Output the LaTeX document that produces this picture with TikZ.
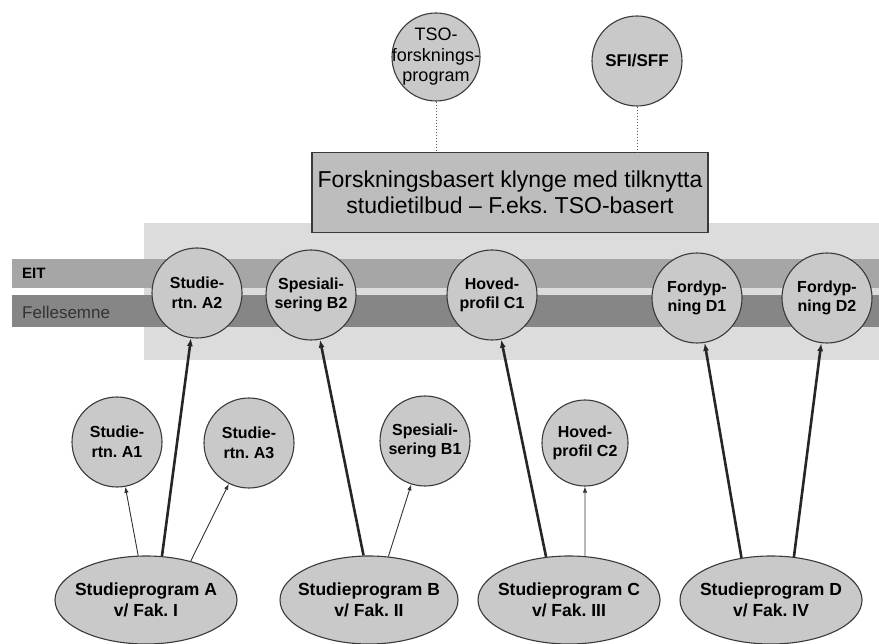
\documentclass[tikz,border=0pt]{standalone}
\usepackage{fontspec}
\setmainfont{Liberation Sans}
\usetikzlibrary{arrows.meta,shapes.geometric}
\frenchspacing
\definecolor{bgshade}{HTML}{DCDCDC}
\definecolor{eitband}{HTML}{A6A6A6}
\definecolor{fellesband}{HTML}{868686}
\definecolor{nodefill}{HTML}{C9C9C9}
\definecolor{boxfill}{HTML}{BDBDBD}
\definecolor{edge}{HTML}{3A3A3A}
\tikzset{
  bubble/.style={circle, draw=edge, line width=1.1pt, fill=nodefill, minimum size=90pt, inner sep=0pt, align=center, font=\bfseries\fontsize{16}{19.5}\selectfont},
  prog/.style={ellipse, draw=edge, line width=1.1pt, fill=nodefill, minimum width=182pt, minimum height=88pt, inner xsep=-22pt, inner ysep=-8pt, align=center, font=\bfseries\fontsize{17.5}{20.5}\selectfont},
  thickarrow/.style={line width=2.6pt, draw=black!85, -{Latex[length=8pt,width=6pt]}},
  thinarrow/.style={line width=0.9pt, draw=black!80, -{Latex[length=6pt,width=4.5pt]}},
  dotline/.style={line width=1pt, draw=black!65, dotted},
  bandlabel/.style={anchor=west, inner sep=0pt}
}
\begin{document}
\begin{tikzpicture}[x=1pt,y=-1pt]
\useasboundingbox (0,0) rectangle (879,644);
% shaded background
\fill[bgshade] (144,223) rectangle (879,360);
% bands
\fill[eitband] (12,259) rectangle (879,288);
\fill[fellesband] (12,295) rectangle (879,327);
\node[bandlabel, font=\bfseries\fontsize{15}{17}\selectfont] (eit) at (22,273) {EIT};
\node[bandlabel, font=\fontsize{17}{19}\selectfont, text=black!80] (felles) at (22,312) {Fellesemne};
% top circles and box
\node[bubble, minimum size=88pt, inner sep=-10pt, font=\fontsize{18}{20.5}\selectfont] (tso) at (436,57) {TSO-\\forsknings-\\program};
\node[bubble, font=\bfseries\fontsize{17}{20}\selectfont] (sfi) at (637,61) {SFI/SFF};
\node[draw=edge, line width=1.1pt, fill=boxfill, minimum width=396pt, minimum height=80pt, inner sep=0pt, align=center, font=\fontsize{23}{26}\selectfont] (box) at (510,192.5) {Forskningsbasert klynge med tilknytta\\studietilbud -- F.eks. TSO-basert};
\draw[dotline] (tso) -- (tso |- box.north);
\draw[dotline] (sfi) -- (sfi |- box.north);
% band circles
\node[bubble] (a2) at (197,293) {Studie-\\rtn. A2};
\node[bubble] (b2) at (311,295) {Spesiali-\\sering B2};
\node[bubble] (c1) at (492,295) {Hoved-\\profil C1};
\node[bubble] (d1) at (697,298) {Fordyp-\\ning D1};
\node[bubble] (d2) at (827,298) {Fordyp-\\ning D2};
% lower circles
\node[bubble] (a1) at (117,442) {Studie-\\rtn. A1};
\node[bubble] (a3) at (249,443) {Studie-\\rtn. A3};
\node[bubble] (b1) at (425,441) {Spesiali-\\sering B1};
\node[bubble, minimum size=86pt] (c2) at (585,443) {Hoved-\\profil C2};
% programmes
\node[prog] (pa) at (146,600) {Studieprogram A\\v/ Fak. I};
\node[prog, minimum width=178pt] (pb) at (369,600) {Studieprogram B\\v/ Fak. II};
\node[prog] (pc) at (569,600) {Studieprogram C\\v/ Fak. III};
\node[prog] (pd) at (771,600) {Studieprogram D\\v/ Fak. IV};
% arrows
\draw[thickarrow] (pa.70) -- (a2);
\draw[thinarrow] (pa.100) -- (a1);
\draw[thinarrow] (pa.41) -- (a3);
\draw[thickarrow] (pb.97) -- (b2);
\draw[thinarrow] (pb.66) -- (b1);
\draw[thickarrow] (pc.118) -- (c1);
\draw[thinarrow] (pc.70) -- (c2);
\draw[thickarrow] (pd.125) -- (d1);
\draw[thickarrow] (pd.62) -- (d2);
\end{tikzpicture}
\end{document}
